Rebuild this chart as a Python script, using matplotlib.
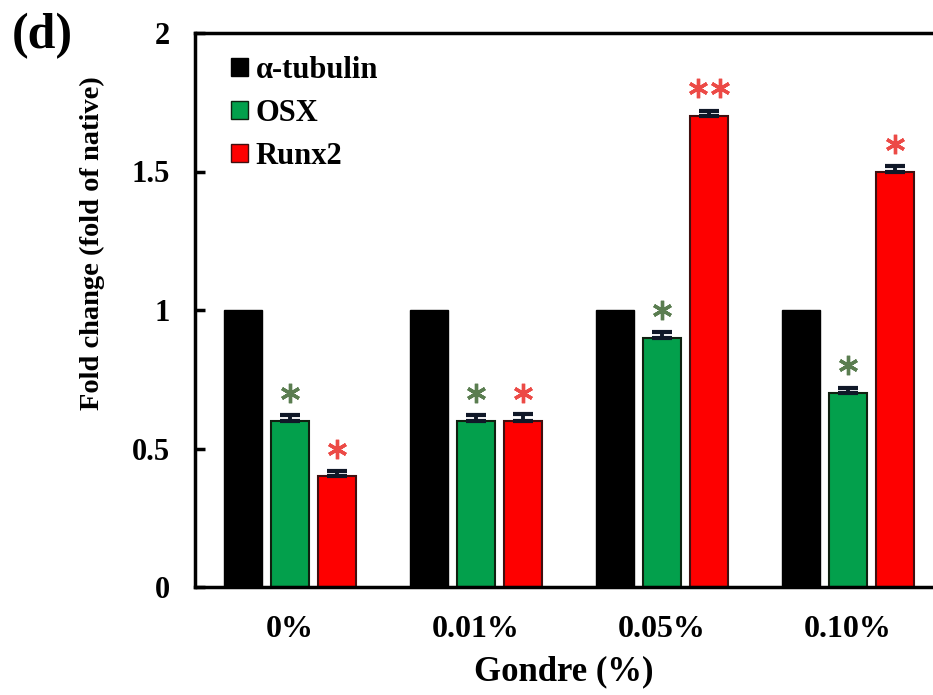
import numpy as np
import matplotlib
matplotlib.use("Agg")
import matplotlib.pyplot as plt
from matplotlib.patches import Patch

# data
groups = ['0%', '0.01%', '0.05%', '0.10%']
tubulin = [1.0, 1.0, 1.0, 1.0]
osx = [0.6, 0.6, 0.9, 0.7]
runx2 = [0.4, 0.6, 1.7, 1.5]
osx_err = [0.02, 0.02, 0.02, 0.02]
runx2_err = [0.02, 0.025, 0.02, 0.02]
osx_stars = [1, 1, 1, 1]
runx2_stars = [1, 1, 2, 1]

plt.rcParams['font.family'] = ['Liberation Serif', 'DejaVu Serif']
plt.rcParams['font.weight'] = 'bold'

fig = plt.figure(figsize=(9.33, 6.95), dpi=100)
ax = fig.add_axes([195/933, (695-587)/695, (933-195)/933, (587-33)/695])

x = np.arange(len(groups))
w = 0.205
off = 0.253
ax.bar(x - off, tubulin, w, color='black', edgecolor='black', linewidth=1)
ax.bar(x, osx, w, color='#03a04c', edgecolor='#102010', linewidth=1.5)
ax.bar(x + off, runx2, w, color='#fe0000', edgecolor='#401010', linewidth=1.5)

zeros = np.zeros(len(groups))
ax.errorbar(x, osx, yerr=[zeros, osx_err], fmt='none', ecolor='#101828',
            elinewidth=2.8, capsize=7, capthick=3)
ax.errorbar(x + off, runx2, yerr=[zeros, runx2_err], fmt='none', ecolor='#101828',
            elinewidth=2.8, capsize=7, capthick=3)

# significance asterisks
star = (6, 2, 0)
for i in range(len(groups)):
    for k in range(osx_stars[i]):
        ax.plot(x[i], osx[i] + 0.1, marker=star, ms=14, mew=2.4,
                color='#5a7d50', clip_on=False)
    n = runx2_stars[i]
    for k in range(n):
        dx = (k - (n - 1) / 2) * 0.114
        ax.plot(x[i] + off + dx, runx2[i] + 0.1, marker=star, ms=14, mew=2.4,
                color='#ec4a46', clip_on=False)

ax.set_xlim(-0.51, 3.457)
ax.set_ylim(0, 2)
ax.set_yticks([0, 0.5, 1, 1.5, 2])
ax.set_yticklabels(['0', '0.5', '1', '1.5', '2'], fontsize=22, fontweight='bold')
ax.set_xticks(x)
ax.set_xticklabels(groups, fontsize=23, fontweight='bold')
ax.tick_params(axis='x', length=0, pad=20)
ax.tick_params(axis='y', direction='in', length=7, width=2.5, pad=18)

for s in ['left', 'bottom', 'top']:
    ax.spines[s].set_linewidth(2.5)
ax.spines['right'].set_visible(False)

ax.set_ylabel('Fold change (fold of native)', fontsize=20.5, fontweight='bold')
ax.yaxis.set_label_coords(-0.122, 0.62)
ax.set_xlabel('Gondre (%)', fontsize=25, fontweight='bold', labelpad=8)

handles = [Patch(facecolor='black', edgecolor='black'),
           Patch(facecolor='#03a04c', edgecolor='#102010'),
           Patch(facecolor='#fe0000', edgecolor='#401010')]
ax.legend(handles, ['α-tubulin', 'OSX', 'Runx2'], loc='upper left',
          bbox_to_anchor=(0.012, 1.008), frameon=False,
          handlelength=0.55, handleheight=0.55, handletextpad=0.25,
          labelspacing=0.45, prop={'weight': 'bold', 'size': 22})

fig.text(12/933, 1 - 48/695, '(d)', fontsize=36, fontweight='bold')

fig.savefig('out.png', dpi=100)
